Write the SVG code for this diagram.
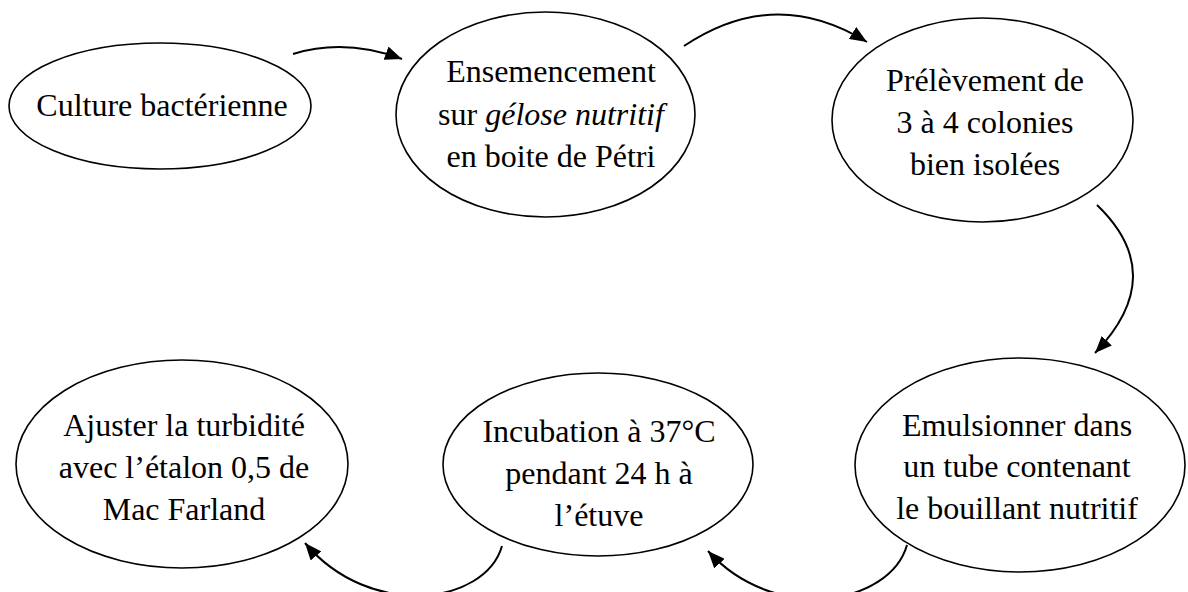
<svg xmlns="http://www.w3.org/2000/svg" width="1188" height="592" viewBox="0 0 1188 592">
<style>
.node ellipse{fill:#fff;stroke:#000;stroke-width:1.6}
.node text{font-family:"Liberation Serif","Times New Roman",serif;font-size:32px;fill:#000;text-anchor:middle}
.conn path{fill:none;stroke:#000;stroke-width:2}
</style>
<defs>
<marker id="ah" markerUnits="userSpaceOnUse" markerWidth="18" markerHeight="14" refX="17" refY="7" orient="auto">
<path d="M0,0 L17,7 L0,14 z" fill="#000"/>
</marker>
</defs>
<g id="n1" class="node">
<ellipse cx="160" cy="106" rx="151" ry="63"/>
<text x="162" y="116">Culture bactérienne</text>
</g>
<g id="n2" class="node">
<ellipse cx="545.5" cy="114.5" rx="149.5" ry="102.5"/>
<text x="551" y="82">Ensemencement</text>
<text x="551" y="125">sur <tspan font-style="italic">gélose nutritif</tspan></text>
<text x="551" y="167">en boite de Pétri</text>
</g>
<g id="n3" class="node">
<ellipse cx="982.5" cy="120" rx="150.5" ry="102"/>
<text x="985" y="91">Prélèvement de</text>
<text x="985" y="133">3 à 4 colonies</text>
<text x="985" y="175">bien isolées</text>
</g>
<g id="n4" class="node">
<ellipse cx="1020" cy="465" rx="165" ry="107"/>
<text x="1017" y="436">Emulsionner dans</text>
<text x="1017" y="477">un tube contenant</text>
<text x="1017" y="519">le bouillant nutritif</text>
</g>
<g id="n5" class="node">
<ellipse cx="598" cy="464.5" rx="155" ry="91.5"/>
<text x="599" y="442">Incubation à 37°C</text>
<text x="599" y="484">pendant 24 h à</text>
<text x="599" y="526">l’étuve</text>
</g>
<g id="n6" class="node">
<ellipse cx="182" cy="464" rx="166" ry="104"/>
<text x="184" y="436">Ajuster la turbidité</text>
<text x="184" y="478">avec l’étalon 0,5 de</text>
<text x="184" y="520">Mac Farland</text>
</g>
<g id="connectors" class="conn">
<path d="M293,54 Q345,38 402,59" marker-end="url(#ah)"/>
<path d="M684,46 Q775,-15 867,42" marker-end="url(#ah)"/>
<path d="M1097,205 Q1170,275 1095,353" marker-end="url(#ah)"/>
<path d="M907,545 C890,605 775,625 708,551" marker-end="url(#ah)"/>
<path d="M502,546 C485,605 370,620 305,543" marker-end="url(#ah)"/>
</g>
</svg>
